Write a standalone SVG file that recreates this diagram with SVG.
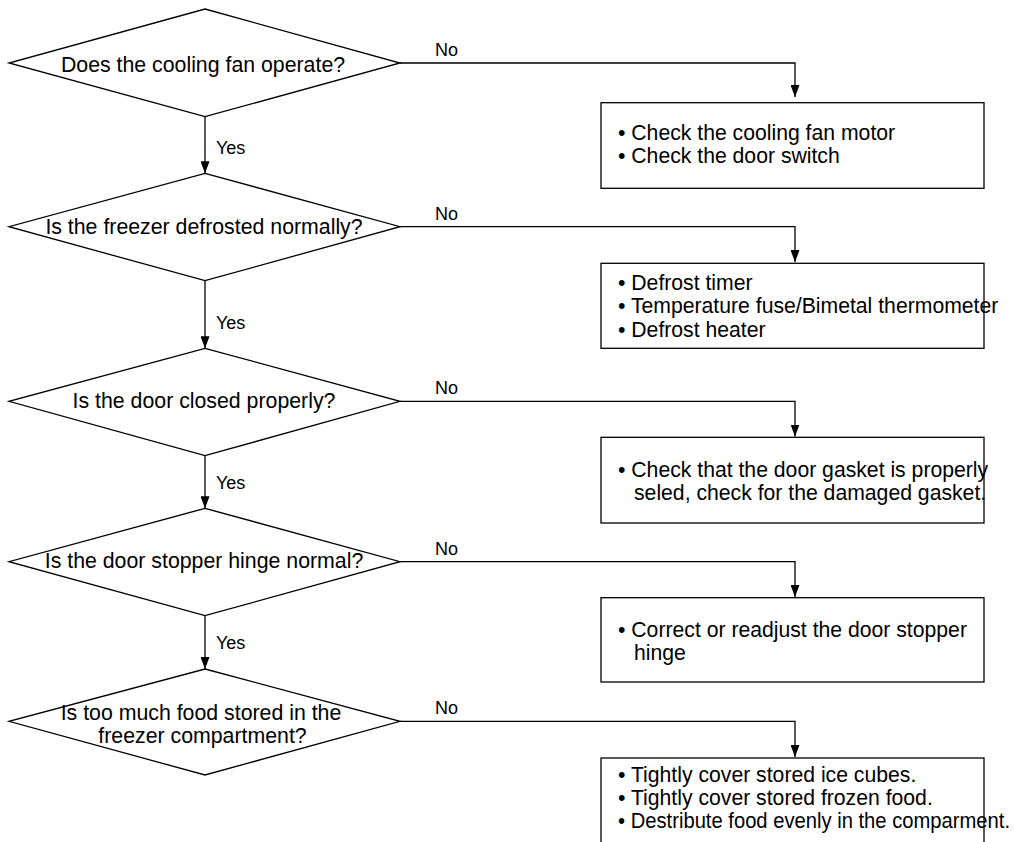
<svg xmlns="http://www.w3.org/2000/svg" width="1014" height="842" viewBox="0 0 1014 842">
<style>
  .shape { fill: #fff; stroke: #000; stroke-width: 1.3; }
  .conn { fill: none; stroke: #000; stroke-width: 1.3; }
  .q { font-family: "Liberation Sans", Arial, sans-serif; font-size: 21.3px; fill: #000; text-anchor: middle; }
  .t { font-family: "Liberation Sans", Arial, sans-serif; font-size: 21.2px; fill: #000; }
  .lbl { font-family: "Liberation Sans", Arial, sans-serif; font-size: 18px; fill: #000; }
</style>
<defs>
  <marker id="arr" viewBox="0 0 12 9" refX="12" refY="4.5" markerWidth="12" markerHeight="9" markerUnits="userSpaceOnUse" orient="auto">
    <path d="M0,0 L12,4.5 L0,9 Z" fill="#000"/>
  </marker>
</defs>
<rect width="1014" height="842" fill="#fff"/>

<g id="connectors">
  <path class="conn" d="M205,116.7 V173.3" marker-end="url(#arr)"/>
  <path class="conn" d="M205,280.7 V348.3" marker-end="url(#arr)"/>
  <path class="conn" d="M205,455.7 V508.3" marker-end="url(#arr)"/>
  <path class="conn" d="M205,615.7 V669" marker-end="url(#arr)"/>
  <path class="conn" d="M400,63 H795 V97" marker-end="url(#arr)"/>
  <path class="conn" d="M400,226.7 H795 V262" marker-end="url(#arr)"/>
  <path class="conn" d="M400,401.3 H795 V436.5" marker-end="url(#arr)"/>
  <path class="conn" d="M400,561.7 H795 V597" marker-end="url(#arr)"/>
  <path class="conn" d="M400,721.3 H795 V757" marker-end="url(#arr)"/>
  <text class="lbl" x="216" y="154">Yes</text>
  <text class="lbl" x="216" y="329">Yes</text>
  <text class="lbl" x="216" y="489">Yes</text>
  <text class="lbl" x="216" y="649">Yes</text>
  <text class="lbl" x="435" y="56">No</text>
  <text class="lbl" x="435" y="220">No</text>
  <text class="lbl" x="435" y="394">No</text>
  <text class="lbl" x="435" y="555">No</text>
  <text class="lbl" x="435" y="714">No</text>
</g>

<g id="d1">
  <polygon class="shape" points="205,9 400,63 205,116.7 9,63"/>
  <text class="q" x="203" y="71.7">Does the cooling fan operate?</text>
</g>
<g id="d2">
  <polygon class="shape" points="205,173.3 400,226.7 205,280.7 9,226.7"/>
  <text class="q" x="204" y="234">Is the freezer defrosted normally?</text>
</g>
<g id="d3">
  <polygon class="shape" points="205,348.3 400,401.3 205,455.7 9,401.3"/>
  <text class="q" x="204" y="408.3">Is the door closed properly?</text>
</g>
<g id="d4">
  <polygon class="shape" points="205,508.3 400,561.7 205,615.7 9,561.7"/>
  <text class="q" x="204" y="568.3">Is the door stopper hinge normal?</text>
</g>
<g id="d5">
  <polygon class="shape" points="205,669 400,721.3 205,775 9,721.3"/>
  <text class="q" x="201" y="720">Is too much food stored in the</text>
  <text class="q" x="202.5" y="743.3">freezer compartment?</text>
</g>

<g id="b1">
  <rect class="shape" x="601" y="102.7" width="383" height="85.6"/>
  <text class="t" x="618" y="140">• Check the cooling fan motor</text>
  <text class="t" x="618" y="163.3">• Check the door switch</text>
</g>
<g id="b2">
  <rect class="shape" x="601" y="263.3" width="383" height="85"/>
  <text class="t" x="618" y="290">• Defrost timer</text>
  <text class="t" x="618" y="313.3">• Temperature fuse/Bimetal thermometer</text>
  <text class="t" x="618" y="336.7">• Defrost heater</text>
</g>
<g id="b3">
  <rect class="shape" x="601" y="437.3" width="383" height="85.7"/>
  <text class="t" x="618" y="476.7">• Check that the door gasket is properly</text>
  <text class="t" x="634" y="500">seled, check for the damaged gasket.</text>
</g>
<g id="b4">
  <rect class="shape" x="601" y="597.7" width="383" height="84.3"/>
  <text class="t" x="618" y="636.7">• Correct or readjust the door stopper</text>
  <text class="t" x="634" y="660">hinge</text>
</g>
<g id="b5">
  <rect class="shape" x="601" y="758" width="383" height="110"/>
  <text class="t" x="618" y="782.3">• Tightly cover stored ice cubes.</text>
  <text class="t" x="618" y="805.3">• Tightly cover stored frozen food.</text>
  <text class="t" x="618" y="828.3" textLength="392" lengthAdjust="spacingAndGlyphs">• Destribute food evenly in the comparment.</text>
</g>
</svg>
